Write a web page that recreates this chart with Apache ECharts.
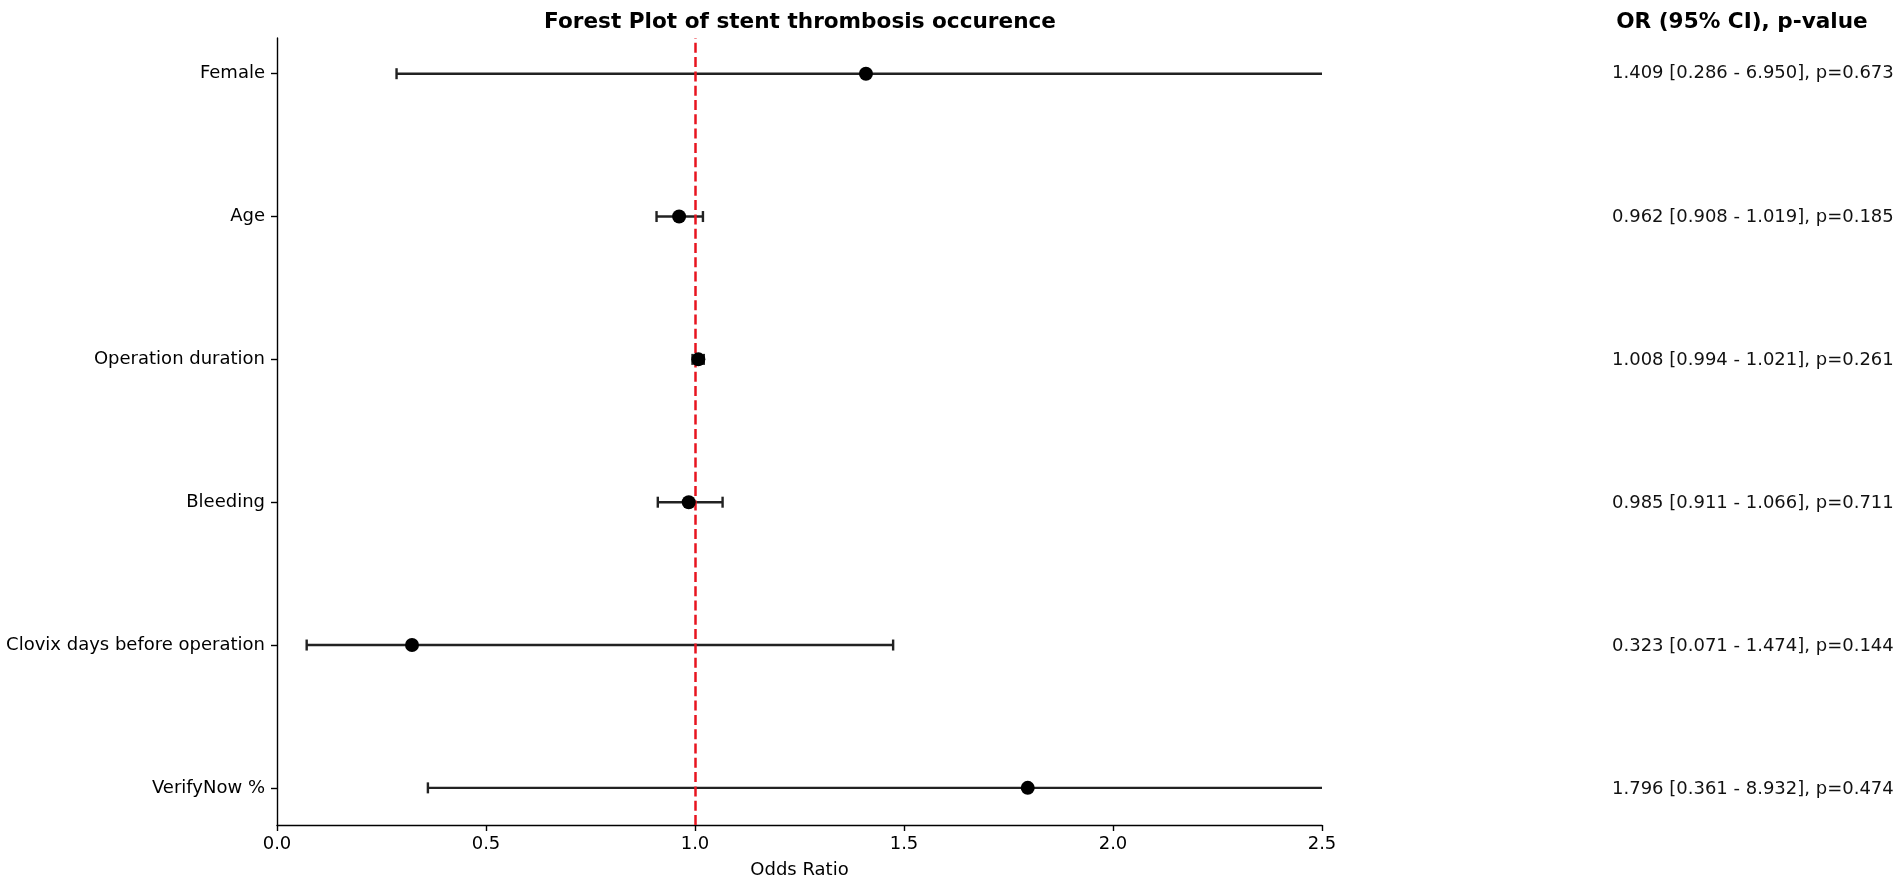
<!DOCTYPE html>
<html>
<head>
<meta charset="utf-8">
<script src="https://cdn.jsdelivr.net/npm/echarts@6/dist/echarts.min.js"></script>
<style>
html,body{margin:0;padding:0;background:#fff;}
#chart{width:1902px;height:884px;}
</style>
</head>
<body>
<div id="chart"></div>
<script>
// ---- data (top to bottom) ----
const variables = ['Female', 'Age', 'Operation duration', 'Bleeding', 'Clovix days before operation', 'VerifyNow %'];
const oddsRatio = [1.409, 0.962, 1.008, 0.985, 0.323, 1.796];
const ciLower   = [0.286, 0.908, 0.994, 0.911, 0.071, 0.361];
const ciUpper   = [6.950, 1.019, 1.021, 1.066, 1.474, 8.932];
const pValues   = [0.673, 0.185, 0.261, 0.711, 0.144, 0.474];
const xTicks    = [0.0, 0.5, 1.0, 1.5, 2.0, 2.5];

const n = variables.length;
const yPos = variables.map((_, i) => n - 1 - i);
const FONT = 'DejaVu Sans';
const Y_MIN = -0.26, Y_MAX = (n - 1) + 0.25;

const chart = echarts.init(document.getElementById('chart'), null, {renderer: 'canvas'});

const errData = variables.map((_, i) => [ciLower[i], ciUpper[i], yPos[i]]);
const ptData = variables.map((_, i) => [oddsRatio[i], yPos[i]]);
const txtData = variables.map((_, i) => ({
  value: [0, yPos[i]],
  text: oddsRatio[i].toFixed(3) + ' [' + ciLower[i].toFixed(3) + ' - ' + ciUpper[i].toFixed(3) + '], p=' + pValues[i].toFixed(3)
}));

const option = {
  backgroundColor: '#fff',
  animation: false,
  title: [
    {
      text: 'Forest Plot of stent thrombosis occurence',
      left: 800, top: 11, textAlign: 'center', padding: 0,
      textStyle: {fontFamily: FONT, fontWeight: 'bold', fontSize: 21.6, color: '#000'}
    },
    {
      text: 'OR (95% CI), p-value',
      left: 1742, top: 11, textAlign: 'center', padding: 0,
      textStyle: {fontFamily: FONT, fontWeight: 'bold', fontSize: 21.6, color: '#000'}
    }
  ],
  grid: [
    {left: 277, right: 580, top: 38, bottom: 57},
    {left: 1612, width: 290, top: 38, bottom: 57}
  ],
  xAxis: [
    {
      type: 'value', gridIndex: 0, min: 0, max: 2.5, interval: 0.5,
      name: 'Odds Ratio', nameLocation: 'middle', nameGap: 36,
      nameTextStyle: {fontFamily: FONT, fontSize: 18, color: '#000'},
      axisLine: {show: true, onZero: false, lineStyle: {color: '#000', width: 1.4}},
      axisTick: {show: true, length: 6, lineStyle: {color: '#000', width: 1.4}},
      axisLabel: {fontFamily: FONT, fontSize: 18, color: '#000', margin: 10,
        formatter: v => Number(v).toFixed(1)},
      splitLine: {show: false}
    },
    {type: 'value', gridIndex: 1, min: 0, max: 1, show: false}
  ],
  yAxis: [
    {
      type: 'value', gridIndex: 0, min: Y_MIN, max: Y_MAX,
      axisLine: {show: true, onZero: false, lineStyle: {color: '#000', width: 1.4}},
      axisTick: {show: true, length: 6, customValues: yPos, lineStyle: {color: '#000', width: 1.4}},
      axisLabel: {fontFamily: FONT, fontSize: 18, color: '#000', margin: 12,
        customValues: yPos,
        formatter: v => variables[n - 1 - Math.round(v)]},
      splitLine: {show: false}
    },
    {type: 'value', gridIndex: 1, min: Y_MIN, max: Y_MAX, show: false}
  ],
  series: [
    {
      type: 'custom', xAxisIndex: 0, yAxisIndex: 0, clip: true, z: 2,
      data: errData,
      renderItem: function (params, api) {
        const p1 = api.coord([api.value(0), api.value(2)]);
        const p2 = api.coord([api.value(1), api.value(2)]);
        const cap = 5.5;
        const st = {stroke: '#222', lineWidth: 2.4};
        return {
          type: 'group',
          children: [
            {type: 'line', shape: {x1: p1[0], y1: p1[1], x2: p2[0], y2: p2[1]}, style: st},
            {type: 'line', shape: {x1: p1[0], y1: p1[1] - cap, x2: p1[0], y2: p1[1] + cap}, style: st},
            {type: 'line', shape: {x1: p2[0], y1: p2[1] - cap, x2: p2[0], y2: p2[1] + cap}, style: st}
          ]
        };
      }
    },
    {
      type: 'scatter', xAxisIndex: 0, yAxisIndex: 0, z: 4,
      symbol: 'circle', symbolSize: 14,
      itemStyle: {color: '#000', opacity: 1},
      data: ptData,
      markLine: {
        silent: true, symbol: 'none', z: 3,
        label: {show: false},
        lineStyle: {color: '#e8141f', width: 2.5, type: [10, 4.3], opacity: 1},
        data: [{xAxis: 1}]
      }
    },
    {
      type: 'scatter', xAxisIndex: 1, yAxisIndex: 1,
      symbolSize: 0, silent: true,
      itemStyle: {opacity: 1},
      data: txtData,
      label: {
        show: true, position: [0, 0], align: 'left', verticalAlign: 'middle',
        fontFamily: FONT, fontSize: 18, color: '#111',
        formatter: p => p.data.text
      }
    }
  ]
};
chart.setOption(option);
</script>
</body>
</html>
